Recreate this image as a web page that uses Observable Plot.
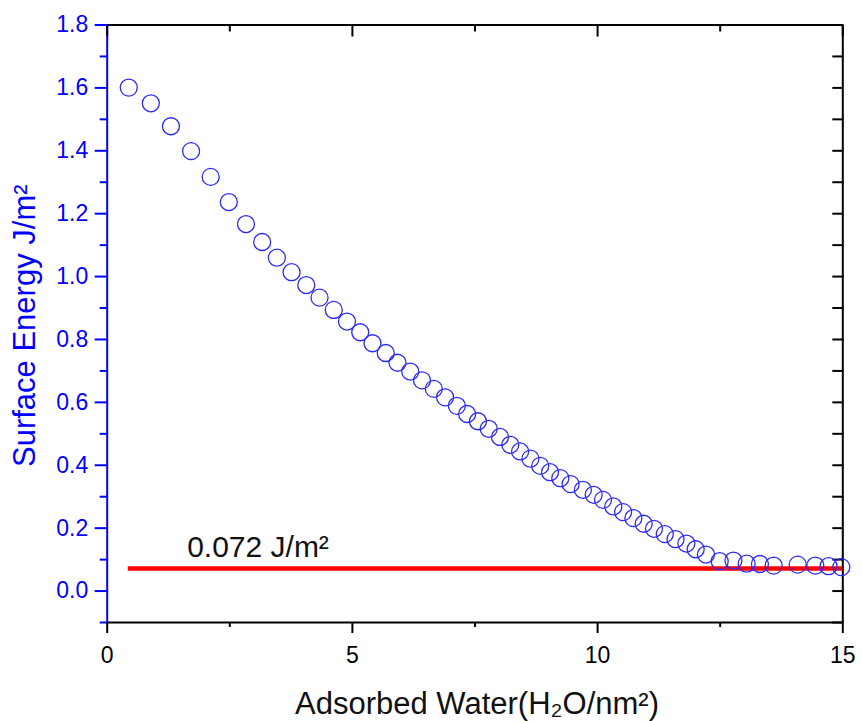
<!DOCTYPE html>
<html><head><meta charset="utf-8">
<script src="https://cdn.jsdelivr.net/npm/d3@7"></script>
<script src="https://cdn.jsdelivr.net/npm/@observablehq/plot@0.6"></script>
<style>body{margin:0;background:#fff} svg{display:block}</style>
</head><body><div id="chart"></div>
<script>
// Adsorbed water (H2O/nm^2)
const water = [0.44,0.89,1.30,1.71,2.11,2.48,2.83,3.16,3.46,3.76,4.06,4.33,4.62,4.89,5.16,5.41,5.68,5.92,6.18,6.42,6.66,6.89,7.13,7.34,7.56,7.78,8.01,8.22,8.42,8.63,8.83,9.03,9.24,9.45,9.70,9.92,10.11,10.32,10.52,10.73,10.94,11.15,11.37,11.59,11.81,12.00,12.21,12.49,12.77,13.04,13.31,13.59,14.08,14.44,14.71,14.97];
// Surface energy (J/m^2)
const energy = [1.601,1.551,1.478,1.399,1.317,1.237,1.167,1.110,1.060,1.014,0.973,0.933,0.894,0.857,0.823,0.788,0.757,0.726,0.698,0.670,0.643,0.616,0.589,0.563,0.540,0.516,0.490,0.465,0.444,0.421,0.398,0.378,0.359,0.340,0.322,0.306,0.290,0.269,0.251,0.232,0.214,0.198,0.181,0.165,0.151,0.133,0.116,0.095,0.097,0.087,0.086,0.081,0.084,0.081,0.079,0.076];
// reference line (surface tension of water)
const refEnergy = 0.072;
const refWaterRange = [0.43, 15];
const refLabel = "0.072 J/m²";
// ticks
const xMajor = [0, 5, 10, 15];
const xMinor = [2.5, 7.5, 12.5];
const yMajor = [0, 0.2, 0.4, 0.6, 0.8, 1.0, 1.2, 1.4, 1.6, 1.8];
const yMinor = [-0.1, 0.1, 0.3, 0.5, 0.7, 0.9, 1.1, 1.3, 1.5, 1.7];
const xDomain = [0, 15];
const yDomain = [-0.1, 1.8];
const xTitle = "Adsorbed Water(H₂O/nm²)";
const yTitle = "Surface Energy J/m²";

const points = water.map((w, i) => ({water: w, energy: energy[i]}));
const BLUE = "#0000ff";
const yAll = [...yMajor, ...yMinor];
const blank = () => "";

const chart = Plot.plot({
  width: 862,
  height: 721,
  marginLeft: 106.7,
  marginRight: 19.7,
  marginTop: 24.5,
  marginBottom: 99,
  style: {fontFamily: "'Liberation Sans', Arial, sans-serif", background: "#fff"},
  x: {domain: xDomain, axis: null},
  y: {domain: yDomain, axis: null},
  marks: [
    // frame
    Plot.ruleY([yDomain[0]], {stroke: "black", strokeWidth: 2}),
    Plot.ruleY([yDomain[1]], {stroke: "black", strokeWidth: 2}),
    Plot.ruleX([xDomain[1]], {stroke: "black", strokeWidth: 2}),
    Plot.ruleX([xDomain[0]], {stroke: BLUE, strokeWidth: 2}),
    // left axis
    Plot.axisY(yMajor, {anchor: "left", tickSize: 12, tickPadding: 7, tickFormat: d3.format(".1f"), color: BLUE, fontSize: 23, strokeWidth: 2, label: null}),
    Plot.axisY(yMinor, {anchor: "left", tickSize: 7, tickFormat: blank, color: BLUE, strokeWidth: 2, label: null}),
    // right axis (inward)
    Plot.axisY(yAll, {anchor: "right", tickSize: -11, tickFormat: blank, color: "black", strokeWidth: 2, label: null}),
    // bottom axis
    Plot.axisX(xMajor, {anchor: "bottom", tickSize: 11, tickPadding: 13, tickFormat: d => String(d), color: "black", fontSize: 23, strokeWidth: 2, label: null}),
    Plot.axisX(xMinor, {anchor: "bottom", tickSize: 5, tickFormat: blank, color: "black", strokeWidth: 2, label: null}),
    // top axis (inward)
    Plot.axisX(xMajor, {anchor: "top", tickSize: -11, tickFormat: blank, color: "black", strokeWidth: 2, label: null}),
    Plot.axisX(xMinor, {anchor: "top", tickSize: -6, tickFormat: blank, color: "black", strokeWidth: 2, label: null}),
    // reference line
    Plot.ruleY([refEnergy], {x1: refWaterRange[0], x2: refWaterRange[1], stroke: "#ff0000", strokeWidth: 4.5}),
    Plot.text([refLabel], {x: 1.63, y: refEnergy, dy: -11, textAnchor: "start", lineAnchor: "bottom", fontSize: 30, fill: "#111"}),
    // data
    Plot.dot(points, {x: "water", y: "energy", r: 8.5, stroke: "#2b2bff", strokeWidth: 1.3, fill: "none"}),
    // axis titles
    Plot.text([xTitle], {frameAnchor: "bottom", dy: 91, dx: 2, textAnchor: "middle", lineAnchor: "bottom", fontSize: 31, fill: "#111"}),
    Plot.text([yTitle], {frameAnchor: "left", dx: -72, dy: 2, rotate: -90, textAnchor: "middle", lineAnchor: "bottom", fontSize: 31, fill: BLUE})
  ]
});
document.getElementById("chart").appendChild(chart);
</script>
</body></html>
